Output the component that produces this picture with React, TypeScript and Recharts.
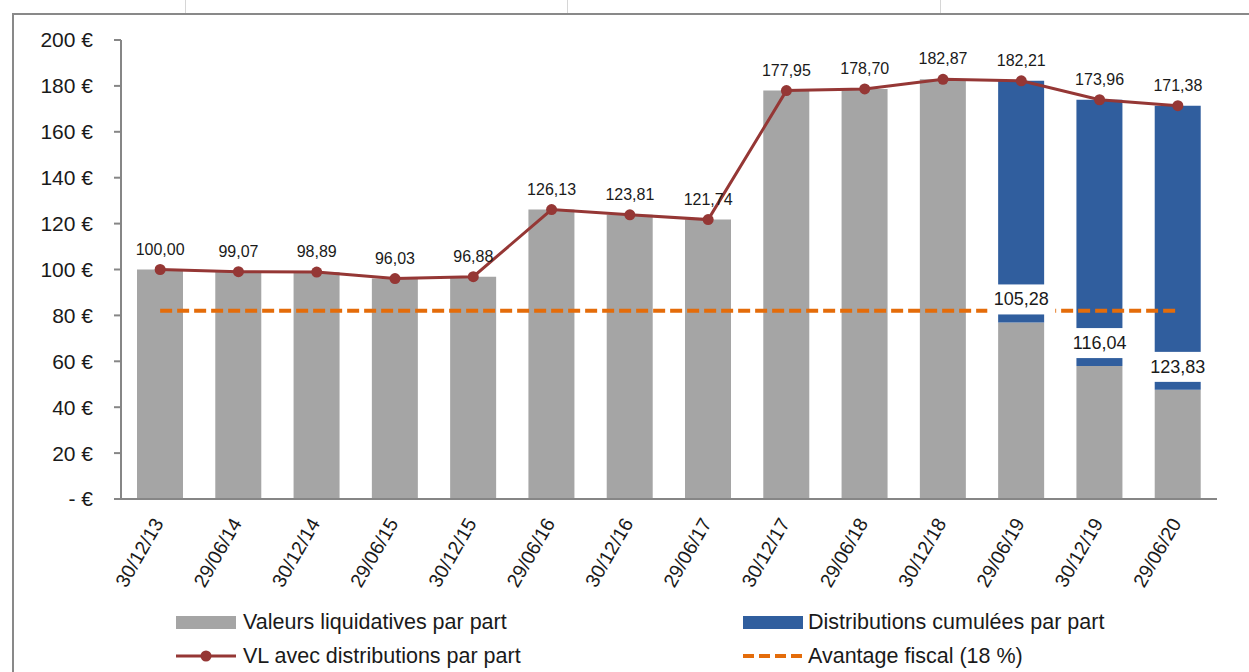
import React from 'react';
import { ComposedChart, Bar, Line, XAxis, YAxis, LabelList } from 'recharts';

const categories = ['30/12/13', '29/06/14', '30/12/14', '29/06/15', '30/12/15', '29/06/16', '30/12/16', '29/06/17', '30/12/17', '29/06/18', '30/12/18', '29/06/19', '30/12/19', '29/06/20'];
const valeursLiquidatives = [100.0, 99.07, 98.89, 96.03, 96.88, 126.13, 123.81, 121.74, 177.95, 178.7, 182.87, 76.93, 57.92, 47.55];
const distributionsCumulees = [0, 0, 0, 0, 0, 0, 0, 0, 0, 0, 0, 105.28, 116.04, 123.83];
const vlAvecDistributions = [100.0, 99.07, 98.89, 96.03, 96.88, 126.13, 123.81, 121.74, 177.95, 178.7, 182.87, 182.21, 173.96, 171.38];
const avantageFiscal = [82, 82, 82, 82, 82, 82, 82, 82, 82, 82, 82, 82, 82, 82];
const yTicks = [0, 20, 40, 60, 80, 100, 120, 140, 160, 180, 200];

const GREY = '#A5A5A5';
const BLUE = '#305E9E';
const RED = '#953735';
const ORANGE = '#E46C0A';
const AXIS = '#868686';
const TEXT = '#1a1a1a';
const FONT = '"Liberation Sans", Arial, sans-serif';

const data = categories.map((c, i) => ({
  date: c,
  vl: valeursLiquidatives[i],
  dist: distributionsCumulees[i],
  vlDist: vlAvecDistributions[i],
  fiscal: avantageFiscal[i],
}));

const fmt = (v: number) => v.toFixed(2).replace('.', ',');

const XTick = (props: any) => {
  const { x, y, payload } = props;
  const ax = x + 4;
  const ay = y + 24;
  return (
    <text
      x={ax}
      y={ay}
      transform={`rotate(-60, ${ax}, ${ay})`}
      textAnchor="end"
      fontSize={19.5}
      fontFamily={FONT}
      fill={TEXT}
    >
      {payload.value}
    </text>
  );
};

const DistLabel = (props: any) => {
  const { index } = props;
  const px = props.x ?? props.viewBox?.x;
  const py = props.y ?? props.viewBox?.y;
  const d = distributionsCumulees[index];
  if (!d || px == null || py == null) return null;
  return (
    <g>
      <rect x={px - 34} y={py - 38} width={68} height={30} fill="#ffffff" />
      <text
        x={px}
        y={py - 23}
        textAnchor="middle"
        dominantBaseline="central"
        fontSize={18}
        fontFamily={FONT}
        fill={TEXT}
      >
        {fmt(d)}
      </text>
    </g>
  );
};

const legendText: React.CSSProperties = {
  position: 'absolute',
  fontFamily: FONT,
  fontSize: 21.5,
  color: TEXT,
  lineHeight: '24px',
  whiteSpace: 'nowrap',
};

export default function App() {
  return (
    <div style={{ position: 'fixed', left: 0, top: 0, width: 1249, height: 672, background: '#fff', overflow: 'hidden' }}>
      {[185, 567, 940].map((gx) => (
        <div key={gx} style={{ position: 'absolute', left: gx, top: 0, width: 1, height: 14, background: '#d6d6d6' }} />
      ))}
      <div
        style={{
          position: 'absolute',
          left: 12,
          top: 13,
          width: 1300,
          height: 700,
          borderTop: '2px solid #898989',
          borderLeft: '2px solid #898989',
        }}
      />
      <div style={{ position: 'absolute', left: 0, top: 0 }}>
        <ComposedChart width={1249} height={672} data={data} margin={{ top: 40, right: 32, left: 0, bottom: 0 }}>
          <XAxis
            dataKey="date"
            interval={0}
            height={173}
            tickLine={false}
            tickSize={0}
            tickMargin={0}
            axisLine={{ stroke: AXIS, strokeWidth: 2 }}
            tick={<XTick />}
          />
          <YAxis
            width={121}
            domain={[0, 200]}
            ticks={yTicks}
            interval={0}
            tickSize={7}
            tickMargin={21}
            axisLine={{ stroke: AXIS, strokeWidth: 2 }}
            tickLine={{ stroke: AXIS, strokeWidth: 2 }}
            tick={{ fontSize: 21, fill: TEXT, fontFamily: FONT }}
            tickFormatter={(v: number) => (v === 0 ? '- €' : `${v} €`)}
          />
          <Bar dataKey="vl" stackId="a" fill={GREY} barSize={46} isAnimationActive={false} />
          <Bar dataKey="dist" stackId="a" fill={BLUE} barSize={46} isAnimationActive={false} />
          <Line
            dataKey="fiscal"
            stroke={ORANGE}
            strokeWidth={4}
            strokeDasharray="12 5"
            dot={false}
            activeDot={false}
            isAnimationActive={false}
          />
          <Line
            dataKey="vl"
            stroke="none"
            dot={false}
            activeDot={false}
            isAnimationActive={false}
            label={DistLabel}
          />
          <Line
            dataKey="vlDist"
            stroke={RED}
            strokeWidth={3}
            dot={{ r: 5.5, fill: RED, stroke: RED, strokeWidth: 0 }}
            activeDot={false}
            isAnimationActive={false}
          >
            <LabelList
              dataKey="vlDist"
              position="top"
              offset={15}
              formatter={(v: any) => fmt(Number(v))}
              style={{ fontSize: 16, fill: TEXT, fontFamily: FONT }}
            />
          </Line>
        </ComposedChart>
      </div>
      {/* Legend */}
      <div style={{ position: 'absolute', left: 176, top: 616, width: 60, height: 13, background: GREY }} />
      <div style={{ ...legendText, left: 243, top: 610 }}>Valeurs liquidatives par part</div>
      <div style={{ position: 'absolute', left: 743, top: 616, width: 60, height: 13, background: BLUE }} />
      <div style={{ ...legendText, left: 808, top: 610 }}>Distributions cumulées par part</div>
      <svg style={{ position: 'absolute', left: 176, top: 646 }} width={62} height={20}>
        <line x1={0} y1={10} x2={60} y2={10} stroke={RED} strokeWidth={3} />
        <circle cx={30} cy={10} r={5.5} fill={RED} />
      </svg>
      <div style={{ ...legendText, left: 243, top: 644 }}>VL avec distributions par part</div>
      <svg style={{ position: 'absolute', left: 743, top: 646 }} width={62} height={20}>
        <line x1={0} y1={10} x2={60} y2={10} stroke={ORANGE} strokeWidth={4} strokeDasharray="11 5" />
      </svg>
      <div style={{ ...legendText, left: 808, top: 644 }}>Avantage fiscal (18 %)</div>
    </div>
  );
}
